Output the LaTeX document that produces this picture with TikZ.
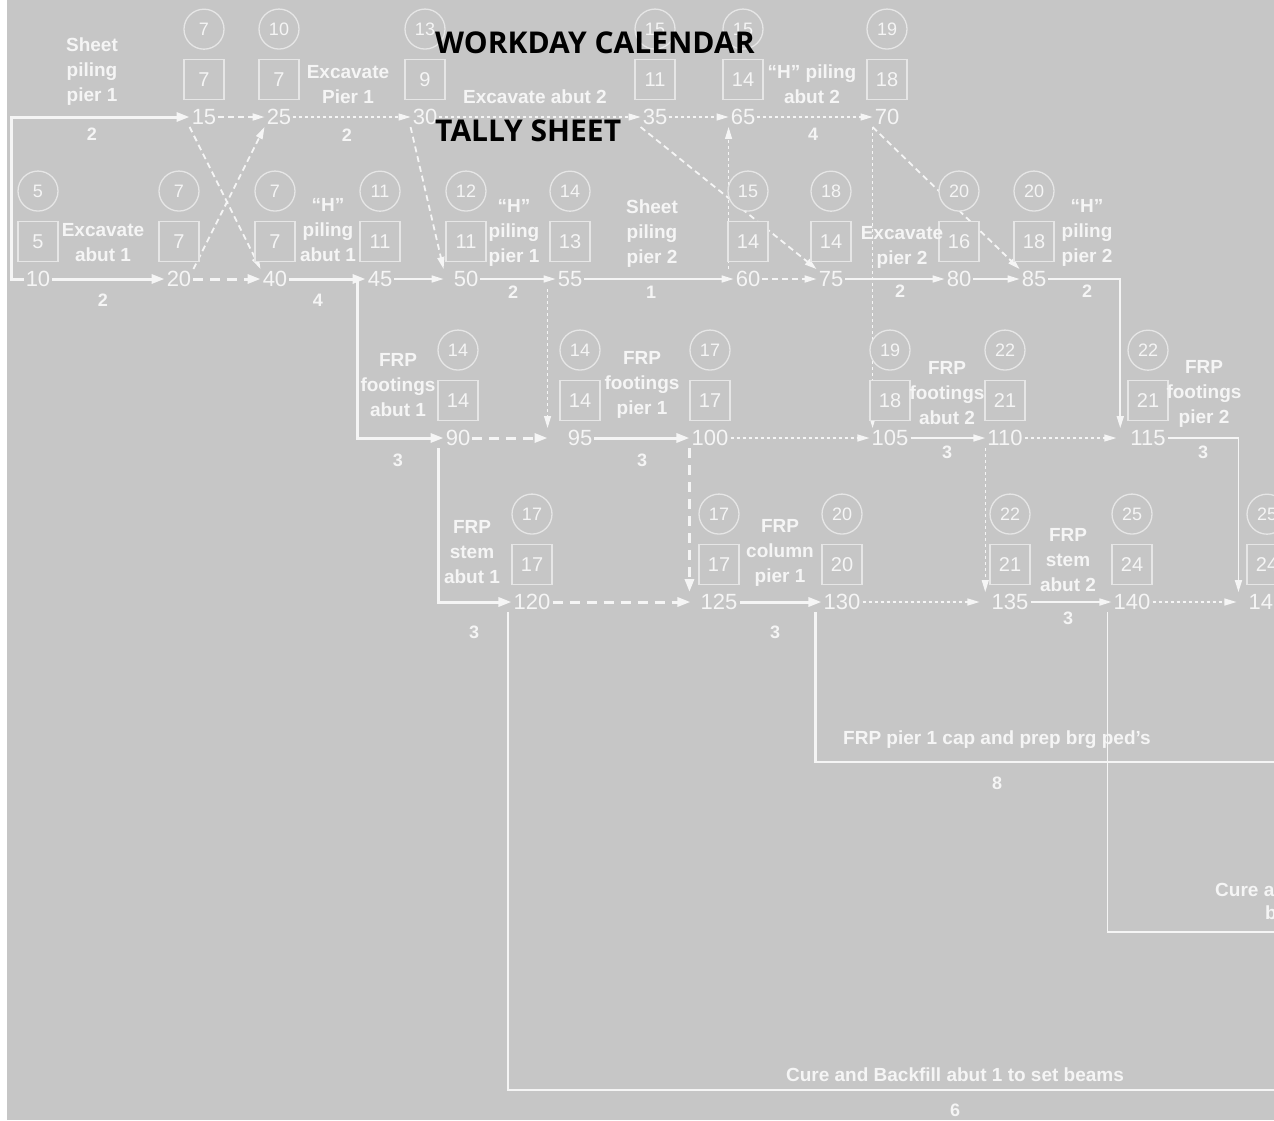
\documentclass[tikz,border=0pt]{standalone}
\usepackage{fontspec}
\setmainfont{Liberation Sans}
\newfontfamily\titlefont{Open Sans}
\usetikzlibrary{arrows.meta,positioning}
\definecolor{SheetGray}{HTML}{C6C6C6}
\definecolor{InkWhite}{HTML}{F5F5F5}
\definecolor{RingGray}{HTML}{E6E6E6}
\pgfdeclarelayer{paper}
\pgfdeclarelayer{wires}
\pgfsetlayers{paper,wires,main}

\begin{document}
\begin{tikzpicture}[x=1pt,y=-1pt,
    every node/.style={text=InkWhite},
    evnum/.style={font=\fontsize{22}{22}\selectfont,inner sep=2pt},
    early/.style={draw=RingGray,fill=SheetGray,line width=1.3pt,minimum size=40pt,inner sep=0pt,font=\fontsize{20}{20}\selectfont},
    late/.style={circle,draw=RingGray,fill=SheetGray,line width=1.3pt,minimum size=40pt,inner sep=0pt,font=\fontsize{18}{18}\selectfont},
    act/.style={font=\bfseries\fontsize{19}{25}\selectfont,align=center,inner sep=0pt},
    dur/.style={font=\bfseries\fontsize{18}{18}\selectfont,inner sep=0pt},
    titletext/.style={font=\titlefont\bfseries\fontsize{30}{30}\selectfont,text=black,anchor=base west,inner sep=0pt},
    critline/.style={draw=InkWhite,line width=3pt,-{Triangle[length=13pt,width=9pt]}},
    critdash/.style={critline,dash pattern=on 10pt off 7pt},
    softline/.style={draw=InkWhite,line width=1.6pt,-{Triangle[length=12pt,width=7pt]}},
    tieline/.style={softline,line width=1.8pt,dash pattern=on 6pt off 4pt},
    slackline/.style={softline,line width=1.2pt,dash pattern=on 3pt off 3pt},
    leadline/.style={draw=InkWhite,line width=2pt}
  ]
  \useasboundingbox (0,0) rectangle (1274,1120);
  \begin{pgfonlayer}{paper}
    \fill[white] (0,0) rectangle (1274,1120);
    \fill[SheetGray] (7,0) rectangle (1274,1120);
  \end{pgfonlayer}

  % events: number, early start box, late start circle
  \foreach \n/\x/\y/\e/\l in {10/38/279/5/5, 15/204/117/7/7, 20/179/279/7/7, 25/279/117/7/10,
      30/425/117/9/13, 35/655/117/11/15, 40/275/279/7/7, 45/380/279/11/11, 50/466/279/11/12,
      55/570/279/13/14, 60/748/279/14/15, 65/743/117/14/15, 70/887/117/18/19, 75/831/279/14/18,
      80/959/279/16/20, 85/1034/279/18/20, 90/458/438/14/14, 95/580/438/14/14, 100/710/438/17/17,
      105/890/438/18/19, 110/1005/438/21/22, 115/1148/438/21/22, 120/532/602/17/17,
      125/719/602/17/17, 130/842/602/20/20, 135/1010/602/21/22, 140/1132/602/24/25, 145/1267/602/24/25}
  {
    \node[evnum] (e\n) at (\x,\y) {\n};
    \node[early,above=7pt of e\n] (b\n) {\e};
    \node[late,above=9pt of b\n] (c\n) {\l};
  }

  % activity labels and durations
  \node[act] (a1) at (92,72) {Sheet\\piling\\pier 1};
  \node[dur] (d1) at (92,134) {2};
  \node[act] (a2) at (103,243) {Excavate\\abut 1};
  \node[dur] (d2) at (103,300) {2};
  \node[act] (a3) at (348,85) {Excavate\\Pier 1};
  \node[dur] (d3) at (347,135) {2};
  \node[act] (a4) at (328,230) {``H''\\piling\\abut 1};
  \node[dur] (d4) at (318,300) {4};
  \node[act] (a5) at (535,97) {Excavate abut 2};
  \node[act] (a6) at (812,84) {``H'' piling\\abut 2};
  \node[dur] (d6) at (813,134) {4};
  \node[act] (a7) at (514,233) {``H''\\piling\\pier 1};
  \node[dur] (d7) at (513,292) {2};
  \node[act] (a8) at (652,234) {Sheet\\piling\\pier 2};
  \node[dur] (d8) at (651,292) {1};
  \node[act] (a9) at (902,247) {Excavate\\pier 2};
  \node[dur] (d9) at (900,291) {2};
  \node[act] (a10) at (1087,233) {``H''\\piling\\pier 2};
  \node[dur] (d10) at (1087,291) {2};
  \node[act] (a11) at (398,385) {FRP\\footings\\abut 1};
  \node[dur] (d11) at (398,460) {3};
  \node[act] (a12) at (642,385) {FRP\\footings\\pier 1};
  \node[dur] (d12) at (642,460) {3};
  \node[act] (a13) at (947,393) {FRP\\footings\\abut 2};
  \node[dur] (d13) at (947,452) {3};
  \node[act] (a14) at (1204,394) {FRP\\footings\\pier 2};
  \node[dur] (d14) at (1203,452) {3};
  \node[act] (a15) at (472,552) {FRP\\stem\\abut 1};
  \node[dur] (d15) at (474,632) {3};
  \node[act] (a16) at (780,553) {FRP\\column\\pier 1};
  \node[dur] (d16) at (775,632) {3};
  \node[act] (a17) at (1068,560) {FRP\\stem\\abut 2};
  \node[dur] (d17) at (1068,618) {3};
  \node[act] (a18) at (997,740) {FRP pier 1 cap and prep brg ped's};
  \node[dur] (d18) at (997,783) {8};
  \node[act,anchor=west] (a19) at (1215,890) {Cure and Backfill abut 2};
  \node[act,anchor=west] (a19b) at (1265,913) {beams};
  \node[act] (a20) at (955,1075) {Cure and Backfill abut 1 to set beams};
  \node[dur] (d20) at (955,1110) {6};

  \node[titletext] (cal) at (435,53) {WORKDAY CALENDAR};
  \node[titletext] (tally) at (435,141) {TALLY SHEET};

  % connectors
  \begin{pgfonlayer}{wires}
    \coordinate (a50) at ([xshift=-8pt]e50.west);
    \coordinate (a95) at ([xshift=-18pt]e95.west);
    \coordinate (v45) at ([xshift=-8pt]e45.west);
    \coordinate (v60) at ([xshift=-5pt]e60.north west);
    \coordinate (v70) at (e70.south west);
    \coordinate (v90) at ([xshift=-5pt]e90.south west);
    \coordinate (v100) at (e100.south west);
    \coordinate (v110) at (e110.south west);
    \coordinate (v115) at ([xshift=-8pt]e115.north west);
    \coordinate (v145) at ([xshift=-8pt]e145.north west);
    \coordinate (v120) at ([xshift=-3pt]e120.south west);
    \coordinate (v130) at ([xshift=-6pt]e130.south west);
    \coordinate (v140) at ([xshift=-4pt]e140.south west);
    \coordinate (capend) at (1290,762);
    \coordinate (cure2end) at (1290,932);
    \coordinate (cure1end) at (1290,1090);

    \draw[critline] (e10.west) -- ++(-12,0) |- (e15.west);
    \draw[critline] (e10) -- (e20);
    \draw[tieline] (e15) -- (e25);
    \draw[tieline] (e15.south west) -- (e40.north west);
    \draw[tieline] (e20.north east) -- (e25.south west);
    \draw[critdash] (e20) -- (e40);
    \draw[slackline] (e25) -- (e30);
    \draw[slackline] (e30) -- (e35);
    \draw[tieline] (e30.south west) -- (a50 |- e50.north);
    \draw[slackline] (e35) -- (e65);
    \draw[tieline] (e35.south west) -- (e75.north west);
    \draw[slackline] (v60) -- (v60 |- e65.south);
    \draw[slackline] (e65) -- (e70);
    \draw[tieline] (e70.south west) -- (e85.north west);
    \draw[slackline] (v70) -- (v70 |- e105.north);
    \draw[critline] (e40) -- (e45);
    \draw[softline] (e45) -- (a50);
    \draw[softline] (e50) -- (e55);
    \draw[softline] (e55) -- (e60);
    \draw[tieline] (e60) -- (e75);
    \draw[softline] (e75) -- (e80);
    \draw[softline] (e80) -- (e85);
    \draw[softline] (e85.east) -| (v115);

    \draw[critline] (v45) |- (e90);
    \draw[slackline] (a95 |- e55.south) -- (a95 |- e95.north);
    \draw[critdash] (e90) -- (a95);
    \draw[critline] (e95) -- (e100);
    \draw[slackline] (e100) -- (e105);
    \draw[softline] (e105) -- (e110);
    \draw[slackline] (e110) -- ([xshift=-12pt]e115.west);
    \draw[slackline] (v110) -- (v110 |- e135.north);
    \draw[softline] (e115.east) -| (v145);

    \draw[critline] (v90) |- (e120);
    \draw[critdash] (v100) -- (v100 |- e125.north);
    \draw[critdash] (e120) -- ([xshift=-8pt]e125.west);
    \draw[critline] (e125) -- (e130);
    \draw[slackline] (e130) -- ([xshift=-10pt]e135.west);
    \draw[softline] (e135) -- (e140);
    \draw[slackline] (e140) -- ([xshift=-10pt]e145.west);

    \draw[leadline,line width=2.5pt] (v130) |- (capend);
    \draw[leadline,line width=1.6pt] (v140) |- (cure2end);
    \draw[leadline] (v120) |- (cure1end);
  \end{pgfonlayer}
\end{tikzpicture}
\end{document}
